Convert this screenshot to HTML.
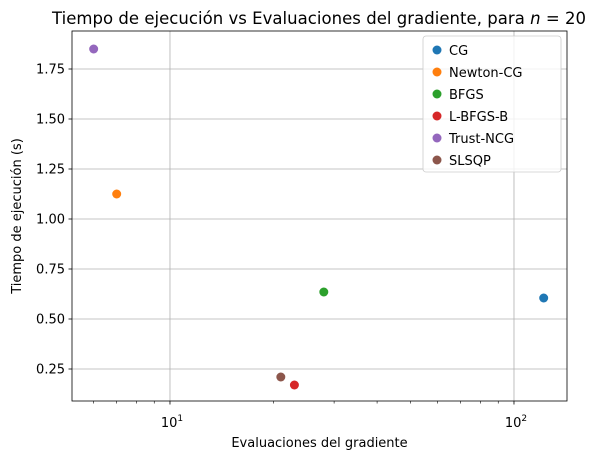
<!DOCTYPE html>
<html><head><meta charset="utf-8"><style>
body{margin:0;background:#fff;}
svg{display:block;font-family:"DejaVu Sans","Liberation Sans",sans-serif;}
</style></head><body>
<svg id="chart" width="596" height="460"></svg>
<script>
const seriesNames=["CG","Newton-CG","BFGS","L-BFGS-B","Trust-NCG","SLSQP"];
const gradEvals=[122,7,28,23,6,21];
const timeSecs=[0.605,1.125,0.635,0.17,1.85,0.21];
const colors=["#1f77b4","#ff7f0e","#2ca02c","#d62728","#9467bd","#8c564b"];
const yTicks=[0.25,0.5,0.75,1.0,1.25,1.5,1.75];
const xMajor=[10,100];

const L=72,R=567,T=31,B=401;
const xMin=Math.log10(5.19),xMax=Math.log10(142.6);
const yMin=0.09,yMax=1.94;
const X=v=>L+(Math.log10(v)-xMin)/(xMax-xMin)*(R-L);
const Y=v=>B-(v-yMin)/(yMax-yMin)*(B-T);
const svg=document.getElementById('chart');
const NS="http://www.w3.org/2000/svg";
function el(t,a,p){const e=document.createElementNS(NS,t);for(const k in a)e.setAttribute(k,a[k]);(p||svg).appendChild(e);return e;}
const FS=13;

yTicks.forEach(v=>{
 const g=el('line',{x1:L,x2:R,y1:Y(v),y2:Y(v),stroke:'#b0b0b0','stroke-width':0.8});
 
 
 const t=el('line',{x1:L-3.5,x2:L,y1:Y(v),y2:Y(v),stroke:'#000','stroke-width':0.8});
 
 
 const lb=el('text',{x:L-7,y:Y(v)+4.5,'text-anchor':'end','font-size':FS});
 lb.textContent=v.toFixed(2);
 
 
});
xMajor.forEach(v=>{
 const g=el('line',{x1:X(v),x2:X(v),y1:T,y2:B,stroke:'#b0b0b0','stroke-width':0.8});
 
 
 const t=el('line',{x1:X(v),x2:X(v),y1:B,y2:B+3.5,stroke:'#000','stroke-width':0.8});
 
 
 const lb=el('text',{x:X(v)+2,y:B+26,'text-anchor':'middle','font-size':FS});
 lb.innerHTML='10<tspan dy="-6" font-size="9">'+Math.round(Math.log10(v))+'</tspan>';
 
 
});
for(let d=0;d<3;d++){for(let m=2;m<10;m++){const v=m*Math.pow(10,d);
 const x=X(v);if(x<L||x>R)continue;
 const t=el('line',{x1:x,x2:x,y1:B,y2:B+2.5,stroke:'#000','stroke-width':0.6});
 
 }}
const fr=el('rect',{x:L,y:T,width:R-L,height:B-T,fill:'none',stroke:'#000','stroke-width':0.8});


seriesNames.forEach((n,i)=>{
 const c=el('circle',{cx:X(gradEvals[i]),cy:Y(timeSecs[i]),r:4.5,fill:colors[i]});
 
 
});
const tt=el('text',{x:52,y:24,'font-size':16.5,textLength:534,lengthAdjust:'spacing'});
tt.innerHTML='Tiempo de ejecución vs Evaluaciones del gradiente, para <tspan font-style="italic">n</tspan> = 20';


const xt=el('text',{x:(L+R)/2,y:447,'text-anchor':'middle','font-size':FS});
xt.textContent='Evaluaciones del gradiente';


const yt=el('text',{x:0,y:0,'text-anchor':'middle','font-size':FS,transform:'translate(21,'+((T+B)/2)+') rotate(-90)'});
yt.textContent='Tiempo de ejecución (s)';


const lg=el('rect',{x:423,y:36,width:138,height:136,rx:3,fill:'#fff','fill-opacity':0.8,stroke:'#ccc','stroke-width':0.8});


seriesNames.forEach((n,i)=>{
 const y=50+i*22;
 const c=el('circle',{cx:437,cy:y,r:4.5,fill:colors[i]});
 
 
 const t=el('text',{x:449,y:y+5,'font-size':FS});
 t.textContent=n;
 
 
});
</script>
</body></html>
